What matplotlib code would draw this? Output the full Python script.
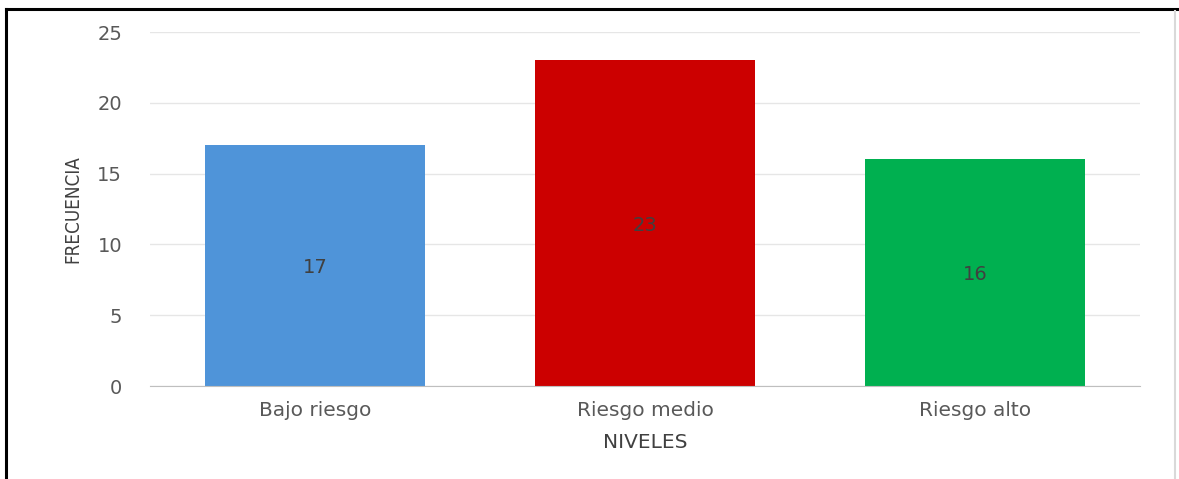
import matplotlib
matplotlib.use("Agg")
import matplotlib.pyplot as plt
from matplotlib.lines import Line2D

categories = ["Bajo riesgo", "Riesgo medio", "Riesgo alto"]
values = [17, 23, 16]
colors = ["#4F94D9", "#CC0000", "#00B050"]
yticks = [0, 5, 10, 15, 20, 25]

plt.rcParams['font.family'] = ['DejaVu Sans']

fig = plt.figure(figsize=(11.79, 4.79), dpi=100)
ax = fig.add_axes([150/1179, 93/479, 990/1179, 354/479])

x = list(range(len(categories)))
bars = ax.bar(x, values, width=0.664, color=colors, zorder=3)
for b, v in zip(bars, values):
    ax.text(b.get_x() + b.get_width()/2, v/2 - 0.15, str(v), ha='center', va='center',
            fontsize=14, color='#404040', zorder=4)

ax.set_xlim(-0.5, 2.5)
ax.set_ylim(0, 25)
ax.set_yticks(yticks)
ax.set_yticklabels([str(t) for t in yticks], fontsize=14, color='#595959')
ax.set_xticks(x)
ax.set_xticklabels(categories, fontsize=14.5, color='#595959')
ax.tick_params(axis='both', length=0)
ax.tick_params(axis='y', pad=20)
ax.tick_params(axis='x', pad=11)
ax.grid(axis='y', color='#E6E6E6', linewidth=1, zorder=0)
for s in ['top', 'right', 'left']:
    ax.spines[s].set_visible(False)
ax.spines['bottom'].set_color('#BFBFBF')
ax.spines['bottom'].set_zorder(5)

ax.set_xlabel("NIVELES", fontsize=14.5, color='#404040', labelpad=9)
ax.set_ylabel("FRECUENCIA", fontsize=13.5, color='#404040', labelpad=11,
              fontstretch='condensed')

# frame lines
W, H = 1179, 479
fig.add_artist(Line2D([6/W, 6/W], [0, 1 - 9/H], color='black', lw=2.2, transform=fig.transFigure))
fig.add_artist(Line2D([6/W, 1], [1 - 9/H, 1 - 9/H], color='black', lw=2.2, transform=fig.transFigure))
fig.add_artist(Line2D([1175/W, 1175/W], [0, 1 - 11/H], color='#D9D9D9', lw=1.5, transform=fig.transFigure))

fig.savefig("out.png", dpi=100)
